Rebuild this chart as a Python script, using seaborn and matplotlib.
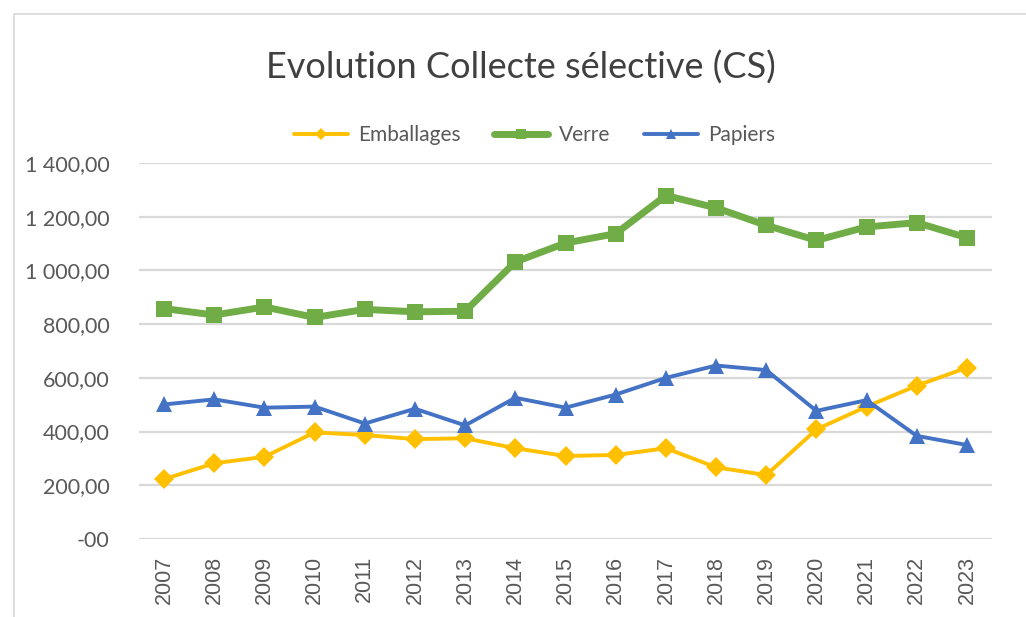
import matplotlib
matplotlib.use("Agg")
import matplotlib.pyplot as plt
import seaborn as sns
import pandas as pd
from matplotlib.patches import Rectangle
from matplotlib.lines import Line2D

years = list(range(2007, 2024))
emballages = [223, 282, 306, 397, 387, 372, 375, 338, 309, 313, 338, 267, 238, 408, 493, 571, 638]
verre = [858, 834, 864, 825, 855, 846, 848, 1032, 1102, 1137, 1279, 1233, 1168, 1112, 1162, 1178, 1122]
papiers = [501, 520, 489, 493, 430, 485, 423, 526, 489, 538, 600, 646, 629, 477, 517, 384, 350]
series_names = ["Emballages", "Verre", "Papiers"]
ytick_values = [0, 200, 400, 600, 800, 1000, 1200, 1400]
ytick_labels = ["-00", "200,00", "400,00", "600,00", "800,00", "1 000,00", "1 200,00", "1 400,00"]
title = "Evolution Collecte sélective (CS)"

colors = {"Emballages": "#FFC000", "Verre": "#70AD47", "Papiers": "#4472C4"}
markers = {"Emballages": "D", "Verre": "s", "Papiers": "^"}
lws = {"Emballages": 2.8, "Verre": 5.0, "Papiers": 2.8}
mss = {"Emballages": 10, "Verre": 12, "Papiers": 11.5}

df = pd.DataFrame({
    "year": years * 3,
    "value": emballages + verre + papiers,
    "serie": [s for s in series_names for _ in years],
})

sns.set_theme(style="white")
plt.rcParams["font.family"] = ["Lato", "DejaVu Sans"]

fig = plt.figure(figsize=(10.26, 6.17), dpi=100)
ax = fig.add_axes([0.1355, 0.1264, 0.8314, 0.6094])

for name in series_names:
    sub = df[df["serie"] == name]
    sns.lineplot(data=sub, x="year", y="value", ax=ax, color=colors[name],
                 linewidth=lws[name], marker=markers[name], markersize=mss[name],
                 markeredgewidth=0, legend=False, zorder=3)

ax.set_xlim(2006.5, 2023.5)
ax.set_ylim(0, 1400)
ax.set_yticks(ytick_values)
ax.set_yticklabels(ytick_labels)
ax.set_xticks(years)
ax.set_xticklabels([str(y) for y in years], rotation=90, family=["Liberation Sans", "DejaVu Sans"])
ax.set_xlabel("")
ax.set_ylabel("")
ax.grid(axis="y", color="#D9D9D9", linewidth=1.6, zorder=0)
ax.grid(axis="x", visible=False)
for sp in ax.spines.values():
    sp.set_visible(False)
ax.tick_params(axis="y", length=0, pad=21, labelsize=15.5, labelcolor="#595959")
ax.tick_params(axis="x", length=0, pad=12, labelsize=15.5, labelcolor="#595959")

fig.text(0.508, 0.891, title, ha="center", va="center", fontsize=26, color="#404040")

handles = [Line2D([0], [0], color=colors[n], linewidth=lws[n], marker=markers[n],
                  markersize=mss[n] * 0.6, markeredgewidth=0) for n in series_names]
fig.legend(handles, series_names, loc="center", bbox_to_anchor=(0.521, 0.781), ncol=3,
           frameon=False, fontsize=15, labelcolor="#595959", handlelength=2.6,
           columnspacing=1.6, handletextpad=0.5)

fig.patches.append(Rectangle((14 / 1026, -0.05), 1.1, 1 - 14 / 617 + 0.05,
                             transform=fig.transFigure, fill=False,
                             edgecolor="#D9D9D9", linewidth=1.2))

fig.savefig("out.png", dpi=100, facecolor="white")
